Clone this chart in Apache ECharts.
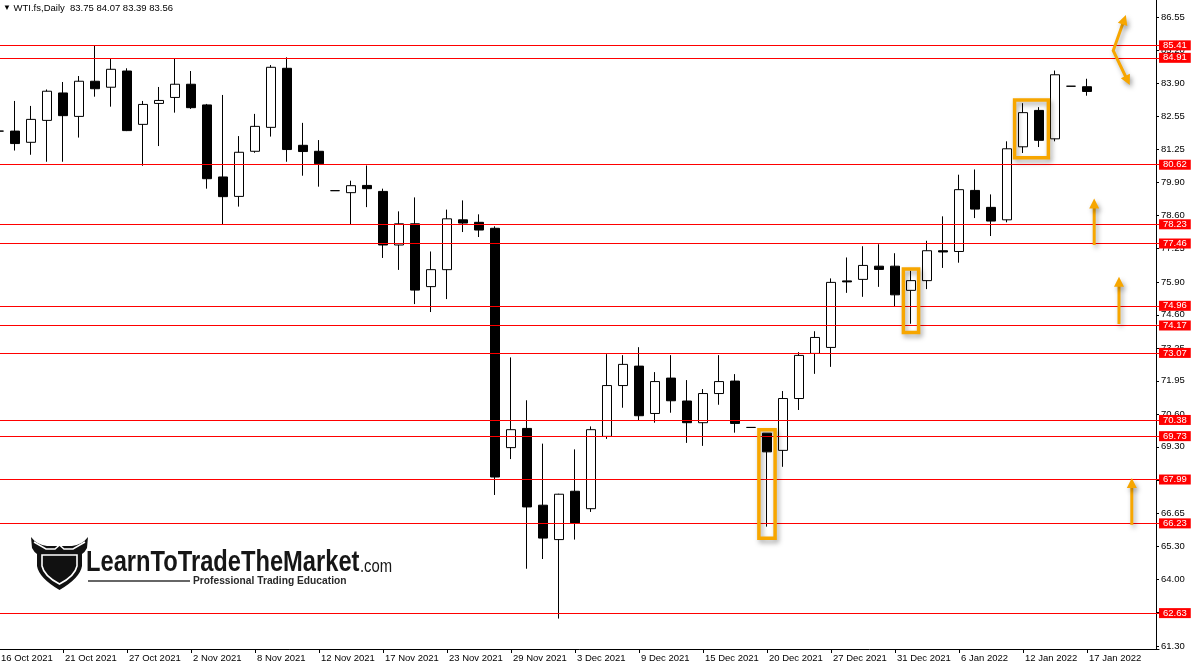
<!DOCTYPE html>
<html>
<head>
<meta charset="utf-8">
<script src="https://cdn.jsdelivr.net/npm/echarts@6/dist/echarts.min.js"></script>
<style>html,body{margin:0;padding:0;background:#fff}#c{width:1200px;height:670px}</style>
</head>
<body>
<div id="c"></div>
<script>
// ---- data ----
const symbolName = 'WTI.fs,Daily';
const dates = ['16 Oct 2021','18 Oct 2021','19 Oct 2021','20 Oct 2021','21 Oct 2021','22 Oct 2021','25 Oct 2021','26 Oct 2021',
 '27 Oct 2021','28 Oct 2021','29 Oct 2021','1 Nov 2021','2 Nov 2021','3 Nov 2021','4 Nov 2021','5 Nov 2021',
 '8 Nov 2021','9 Nov 2021','10 Nov 2021','11 Nov 2021','12 Nov 2021','14 Nov 2021','15 Nov 2021','16 Nov 2021',
 '17 Nov 2021','18 Nov 2021','19 Nov 2021','22 Nov 2021','23 Nov 2021','24 Nov 2021','25 Nov 2021','26 Nov 2021',
 '29 Nov 2021','30 Nov 2021','1 Dec 2021','2 Dec 2021','3 Dec 2021','6 Dec 2021','7 Dec 2021','8 Dec 2021',
 '9 Dec 2021','10 Dec 2021','13 Dec 2021','14 Dec 2021','15 Dec 2021','16 Dec 2021','17 Dec 2021','19 Dec 2021',
 '20 Dec 2021','21 Dec 2021','22 Dec 2021','23 Dec 2021','27 Dec 2021','28 Dec 2021','29 Dec 2021','30 Dec 2021',
 '31 Dec 2021','3 Jan 2022','4 Jan 2022','5 Jan 2022','6 Jan 2022','7 Jan 2022','10 Jan 2022','11 Jan 2022',
 '12 Jan 2022','13 Jan 2022','14 Jan 2022','16 Jan 2022','17 Jan 2022',
 '18 Jan 2022','19 Jan 2022','20 Jan 2022','21 Jan 2022'];
const opens  = [81.97,81.97,81.52,82.40,83.50,82.56,83.97,83.73,84.38,82.24,83.08,83.32,83.85,83.02,80.13,79.35,81.16,82.12,84.49,81.40,81.16,
 79.58,79.50,79.79,79.55,77.40,78.25,75.73,76.41,78.41,78.31,78.07,69.27,70.04,66.96,65.58,67.52,66.82,69.72,71.76,72.54,70.64,72.06,71.14,
 70.27,71.44,71.94,70.08,69.85,69.16,71.24,73.05,73.29,75.96,76.02,76.55,76.55,75.58,75.97,77.17,77.14,79.59,78.91,78.41,81.34,82.80,81.66,83.77,83.75];
const highs  = [82.10,83.18,82.98,83.64,83.94,84.18,85.41,84.88,84.49,83.18,83.74,84.88,84.38,83.06,83.42,81.77,82.66,84.62,84.93,82.30,81.61,
 79.58,79.98,80.59,79.66,78.75,79.31,77.14,78.82,79.19,78.63,78.15,72.89,71.17,69.43,67.42,69.20,70.12,73.02,72.98,73.30,72.30,72.98,71.98,
 71.62,72.98,72.22,70.08,69.85,71.54,73.10,73.94,76.06,76.90,77.35,77.43,77.07,76.37,77.57,78.55,80.22,80.43,79.43,81.56,83.09,82.93,84.40,83.77,84.07];
const lows   = [81.80,81.19,81.02,80.74,80.74,81.71,83.35,82.95,81.97,80.58,81.37,82.71,82.86,79.66,78.24,78.94,81.10,81.75,80.74,80.18,79.74,
 79.58,78.23,78.92,76.88,76.40,75.03,74.71,75.23,77.92,77.72,67.37,68.81,64.41,64.80,62.41,65.58,66.69,69.62,70.87,70.37,70.27,70.67,69.46,
 69.34,70.99,69.87,70.08,66.10,68.50,70.78,72.23,72.51,75.48,75.32,75.72,74.95,74.24,75.63,76.48,76.69,78.48,77.76,78.31,81.09,81.33,81.56,83.77,83.39];
const closes = [81.97,81.47,82.44,83.57,82.59,83.97,83.67,84.45,81.99,83.04,83.20,83.85,82.91,80.06,79.34,81.12,82.16,84.53,81.23,81.15,80.66,
 79.58,79.78,79.66,77.40,78.25,75.59,76.41,78.45,78.28,78.00,68.09,69.99,66.89,65.64,67.40,66.25,69.99,71.76,72.61,70.55,71.92,71.15,70.27,
 71.44,71.92,70.24,70.08,69.10,71.24,72.97,73.69,75.90,75.92,76.58,76.42,75.40,75.97,77.17,77.12,79.62,78.84,78.36,81.26,82.71,81.60,84.23,83.77,83.56];
const levels = [85.41,84.91,80.62,78.23,77.46,74.96,74.17,73.07,70.38,69.73,67.99,66.23,62.63];
const lastPrice = 83.56;
const yTickValues = [61.30,62.65,64.00,65.30,66.65,67.95,69.30,70.60,71.95,73.25,74.60,75.90,77.25,78.60,79.90,81.25,82.55,83.90,85.20,86.55];
// highlight boxes: [from category, to category, low price, high price]
const boxes = [[47.4,48.6,65.57,70.05],[56.43,57.57,73.83,76.50],[63.38,65.68,80.84,83.28]];
// arrows: list of [category, price] points, head at last point
const arrows = [[[68.45,77.40],[68.45,79.27]],[[70.0,74.23],[70.0,76.13]],[[70.8,66.17],[70.8,68.05]]];
// two-headed bent arrow
const bentArrow = [[70.67,83.82],[69.64,85.20],[70.43,86.63]];

// ---- chart ----
const ORANGE = '#F7A600';
const labelEvery = (i) => i % 4 === 0 && i < closes.length;
const ohlc = closes.map((c, i) => [opens[i], c, lows[i], highs[i]]);
const n = ohlc.length;
const titleText = symbolName + '  ' + [opens[n-1], highs[n-1], lows[n-1], closes[n-1]].map(v => v.toFixed(2)).join(' ');

function kx(api, k) {
  const i = Math.floor(k);
  const band = api.size([1, 0])[0];
  return api.coord([i, 70])[0] + (k - i) * band;
}
function py(api, p) { return api.coord([0, p])[1]; }
function arrowHead(tip, from, len, half) {
  const dx = tip[0] - from[0], dy = tip[1] - from[1];
  const d = Math.hypot(dx, dy) || 1;
  const ux = dx / d, uy = dy / d;
  const bx = tip[0] - ux * len, by = tip[1] - uy * len;
  return { pts: [[tip[0], tip[1]], [bx - uy * half, by + ux * half], [bx + uy * half, by - ux * half]], base: [bx + ux * 2, by + uy * 2] };
}
const shadow = { shadowBlur: 5, shadowColor: 'rgba(0,0,0,0.35)', shadowOffsetX: 2, shadowOffsetY: 3 };

function drawArrow(api, pts, both) {
  const px = pts.map(p => [kx(api, p[0]), py(api, p[1])]);
  const children = [];
  const line = px.map(p => p.slice());
  const h1 = arrowHead(px[px.length - 1], px[px.length - 2], 10, 5);
  line[line.length - 1] = h1.base;
  children.push({ type: 'polygon', shape: { points: h1.pts }, style: Object.assign({ fill: ORANGE }, shadow) });
  if (both) {
    const h0 = arrowHead(px[0], px[1], 10, 5);
    line[0] = h0.base;
    children.push({ type: 'polygon', shape: { points: h0.pts }, style: Object.assign({ fill: ORANGE }, shadow) });
  }
  children.unshift({ type: 'polyline', shape: { points: line }, style: Object.assign({ stroke: ORANGE, lineWidth: 3, fill: null, lineJoin: 'miter' }, shadow) });
  return { type: 'group', children };
}

function drawLogo() {
  return { type: 'group', children: [
    { type: 'path', shape: { pathData: 'M31,537 Q37,545 47,546 L72,546 Q82,545 88,537 L87,548 Q85,552 82,554 L82,566 Q80,578 59.5,590 Q39,578 37,566 L37,554 Q34,552 32,548 Z' }, style: { fill: '#111' } },
    { type: 'polyline', shape: { points: [[34, 542], [46, 549], [55, 549], [59.5, 545], [64, 549], [73, 549], [85, 542]] }, style: { stroke: '#fff', lineWidth: 1.5, fill: null } },
    { type: 'path', shape: { pathData: 'M42,555 L77,555 L77,566 Q75,576 59.5,584 Q44,576 42,566 Z' }, style: { stroke: '#fff', lineWidth: 1.6, fill: null } },
    { type: 'text', x: 86, y: 563, scaleX: 0.79, style: { text: 'LearnToTradeTheMarket', font: 'bold 30px "Liberation Sans", Arial', fill: '#161616', verticalAlign: 'middle' } },
    { type: 'text', x: 360, y: 567, scaleX: 0.78, style: { text: '.com', font: '19px "Liberation Sans", Arial', fill: '#161616', verticalAlign: 'middle' } },
    { type: 'line', shape: { x1: 88, y1: 581, x2: 190, y2: 581 }, style: { stroke: '#333', lineWidth: 1.5 } },
    { type: 'text', x: 193, y: 581, scaleX: 0.93, style: { text: 'Professional Trading Education', font: 'bold 11px "Liberation Sans", Arial', fill: '#2a2a2a', verticalAlign: 'middle' } }
  ] };
}

const chart = echarts.init(document.getElementById('c'), null, { renderer: 'canvas' });
chart.setOption({
  animation: false,
  backgroundColor: '#fff',
  textStyle: { fontFamily: 'Liberation Sans, Arial, sans-serif' },
  title: {
    text: '{t|▼} ' + titleText,
    left: 3, top: 3, padding: 0,
    textStyle: { fontSize: 9.5, fontWeight: 'normal', color: '#000', fontFamily: 'Liberation Sans',
      rich: { t: { fontSize: 8, color: '#000' } } }
  },
  grid: { left: -9, right: 41, top: 0, bottom: 21, containLabel: false, outerBoundsMode: 'none' },
  xAxis: {
    type: 'category', data: dates, boundaryGap: true,
    axisLine: { show: true, lineStyle: { color: '#000', width: 1 } },
    axisTick: { show: true, alignWithLabel: true, interval: labelEvery, length: 4, lineStyle: { color: '#000' } },
    axisLabel: { interval: labelEvery, align: 'left', margin: 4, padding: [0, 0, 0, 2], color: '#000', fontSize: 9.5, fontFamily: 'Liberation Sans' },
    splitLine: { show: false }
  },
  yAxis: {
    type: 'value', position: 'right', offset: -3, min: 61.19, max: 87.23, scale: true,
    splitLine: { show: false },
    axisLine: { show: true, lineStyle: { color: '#000', width: 1 } },
    axisTick: { show: true, length: 3, customValues: yTickValues, lineStyle: { color: '#000' } },
    axisLabel: { customValues: yTickValues, formatter: v => v.toFixed(2), color: '#000', fontSize: 9.5, margin: 5, fontFamily: 'Liberation Sans' }
  },
  series: [
    {
      type: 'candlestick', data: ohlc, barWidth: 9.5, clip: true,
      itemStyle: { color: '#fff', color0: '#000', borderColor: '#000', borderColor0: '#000', borderColorDoji: '#000', borderWidth: 1 },
      markLine: {
        silent: true, animation: false, symbol: ['none', 'none'],
        lineStyle: { color: '#ff0000', width: 1, type: 'solid' },
        label: { show: true, position: 'end', distance: 0, formatter: p => Number(p.value).toFixed(2),
          backgroundColor: '#ff0000', color: '#fff', fontSize: 9.5, fontFamily: 'Liberation Sans', padding: [1, 4, 0, 4], lineHeight: 9 },
        data: levels.map(v => ({ yAxis: v })).concat([{ yAxis: lastPrice, lineStyle: { opacity: 0 }, label: { backgroundColor: '#000' } }])
      },
      z: 3
    },
    {
      type: 'custom', data: boxes.map((b, i) => [i, b[2]]), z: 5, silent: true,
      renderItem: (params, api) => {
        const b = boxes[params.dataIndex];
        const x0 = kx(api, b[0]), x1 = kx(api, b[1]);
        const yt = py(api, b[3]), yb = py(api, b[2]);
        return { type: 'rect', shape: { x: x0 + 1.5, y: yt + 1.5, width: x1 - x0 - 3, height: yb - yt - 3 },
          style: Object.assign({ fill: null, stroke: ORANGE, lineWidth: 3.5 }, shadow) };
      }
    },
    {
      type: 'custom', data: arrows.map((a, i) => [i, a[0][1]]).concat([[arrows.length, bentArrow[0][1]]]), z: 5, silent: true,
      renderItem: (params, api) => {
        if (params.dataIndex < arrows.length) return drawArrow(api, arrows[params.dataIndex], false);
        return drawArrow(api, bentArrow, true);
      }
    },
    {
      type: 'custom', coordinateSystem: 'none', data: [[0]], z: 6, silent: true,
      renderItem: () => drawLogo()
    }
  ]
});
</script>
</body>
</html>
